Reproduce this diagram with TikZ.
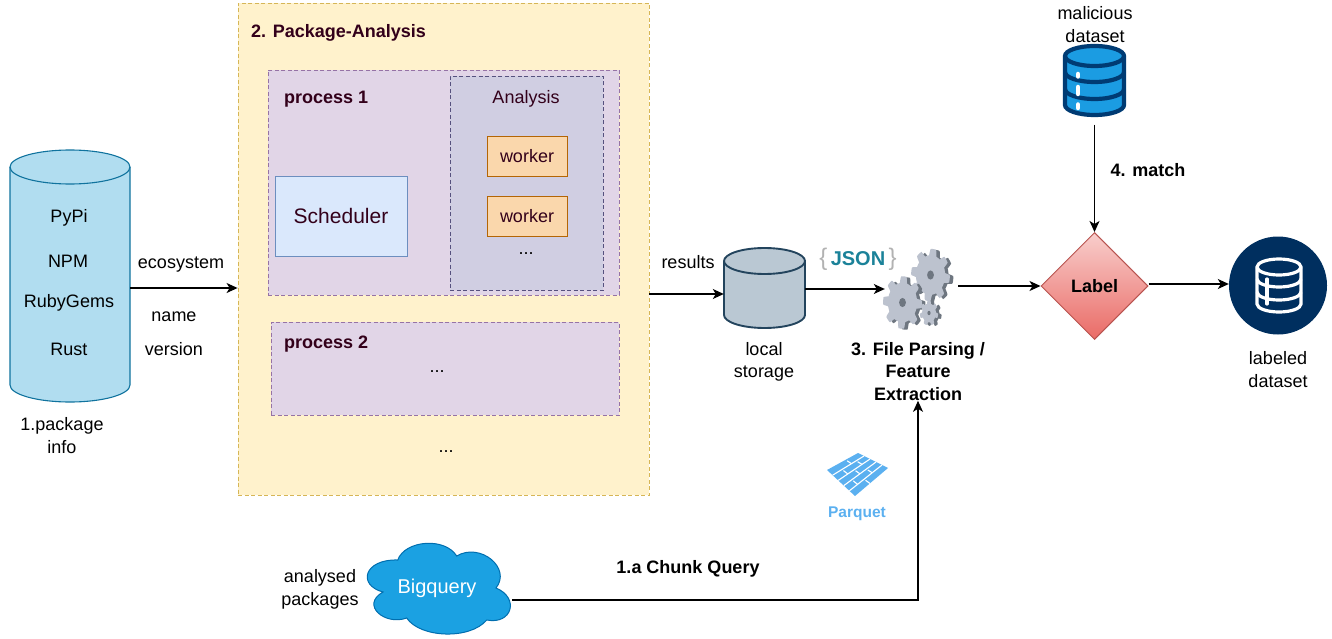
\documentclass[tikz,border=0pt]{standalone}
\usepackage{fontspec}
\setmainfont{Liberation Sans}
\usetikzlibrary{arrows.meta,shapes.geometric,calc}
\definecolor{ttl}{HTML}{33001A}
\definecolor{navy}{HTML}{002F5F}
\newcommand{\fs}[1]{\fontsize{#1}{22.5}\selectfont}
\newcommand{\gearshape}[6]{% cx cy rx ry teeth phase
  plot[domain=0:360,samples=181] ({#1+#3*(1+0.14*max(-1,min(1,2.5*sin(#5*\x+#6))))*cos(\x)},{#2+#4*(1+0.14*max(-1,min(1,2.5*sin(#5*\x+#6))))*sin(\x)}) -- cycle}
\newcommand{\onegear}[6]{%
  \fill[gearside] \gearshape{#1+3.5}{#2+1}{#3}{#4}{#5}{#6};
  \fill[gearface] \gearshape{#1}{#2}{#3}{#4}{#5}{#6};
  \fill[gearside] (#1,#2) ellipse [x radius=#3*0.2pt,y radius=#4*0.2pt];}
\tikzset{
  lbl/.style={inner sep=0,align=center,font=\fs{18}},
  blbl/.style={lbl,font=\fs{18}\bfseries},
  ttlbl/.style={lbl,font=\fs{18}\bfseries,text=ttl},
  conn/.style={draw=black,line width=1.2pt,-{Stealth[length=11pt,width=10pt,inset=3pt]}},
  boxn/.style={inner sep=0,rectangle,line width=0.85pt},
  dashbox/.style={boxn,dash pattern=on 4pt off 2.5pt},
  gearface/.style={fill=gearfc},
  gearside/.style={fill=gearsd},
  dbline/.style={line width=1.1pt}
}
\definecolor{gearfc}{HTML}{BCC2CE}
\definecolor{gearsd}{HTML}{6E7680}
\begin{document}
\begin{tikzpicture}[x=1pt,y=-1pt]
\useasboundingbox (0,0) rectangle (1332,639);
% left cylinder
\node[inner sep=0,minimum width=120pt,minimum height=252pt] (pkgdb) at (70,276) {};
\draw[dbline,draw={rgb,255:red,16;green,115;blue,158},fill={rgb,255:red,177;green,221;blue,240}]
  (10,167) -- (10,385) arc[start angle=180,end angle=360,x radius=60pt,y radius=17pt] -- (130,167) arc[start angle=0,end angle=180,x radius=60pt,y radius=17pt] -- cycle;
\draw[dbline,draw={rgb,255:red,16;green,115;blue,158}] (10,167) arc[start angle=180,end angle=360,x radius=60pt,y radius=17pt];
\node[lbl] (pypi) at (69,218) {PyPi};
\node[lbl] (npm) at (68,261) {NPM};
\node[lbl] (ruby) at (69,303) {RubyGems};
\node[lbl] (rust) at (69,349) {Rust};
\node[lbl] (pkginfo) at (62,435.5) {1.package\\info};
\node[lbl] (eco) at (181,265) {ecosystem};
\node[lbl] (pname) at (174,317) {name};
\node[lbl] (pver) at (174,349) {version};
% package analysis
\node[dashbox,draw={rgb,255:red,214;green,182;blue,86},fill={rgb,255:red,255;green,242;blue,204},minimum width=411pt,minimum height=492pt] (pkg) at (443.5,249) {};
\node[ttlbl,anchor=west] (pkgt) at (251,33) {2. Package-Analysis};
\node[dashbox,draw={rgb,255:red,150;green,115;blue,166},fill={rgb,255:red,225;green,213;blue,231},minimum width=351pt,minimum height=225pt] (p1) at (443.5,182.5) {};
\node[ttlbl,anchor=west] (p1t) at (284,99) {process 1};
\node[dashbox,draw={rgb,255:red,86;green,81;blue,126},fill={rgb,255:red,208;green,206;blue,226},minimum width=153pt,minimum height=214pt] (an) at (526.5,183) {};
\node[lbl,text=ttl] (ant) at (526,99) {Analysis};
\node[boxn,draw={rgb,255:red,180;green,101;blue,4},fill={rgb,255:red,250;green,215;blue,172},minimum width=80pt,minimum height=40pt,font=\fs{18},text=ttl] (w1) at (527,156) {worker};
\node[boxn,draw={rgb,255:red,180;green,101;blue,4},fill={rgb,255:red,250;green,215;blue,172},minimum width=80pt,minimum height=40pt,font=\fs{18},text=ttl] (w2) at (527,216) {worker};
\node[lbl] (d1) at (526,254) {...};
\node[boxn,draw={rgb,255:red,108;green,142;blue,191},fill={rgb,255:red,218;green,232;blue,252},minimum width=132pt,minimum height=80pt,font=\fs{21},text=ttl] (sch) at (341,216) {Scheduler};
\node[dashbox,draw={rgb,255:red,150;green,115;blue,166},fill={rgb,255:red,225;green,213;blue,231},minimum width=348pt,minimum height=93pt] (p2) at (445,368.5) {};
\node[ttlbl,anchor=west] (p2t) at (284,344) {process 2};
\node[lbl] (d2) at (437,372) {...};
\node[lbl] (d3) at (446,452) {...};
% local storage
\node[inner sep=0,minimum width=81pt,minimum height=80pt] (store) at (764.5,288) {};
\draw[line width=1.9pt,draw={rgb,255:red,35;green,68;blue,93},fill={rgb,255:red,186;green,200;blue,211}]
  (724,261) -- (724,315) arc[start angle=180,end angle=360,x radius=40.5pt,y radius=13pt] -- (805,261) arc[start angle=0,end angle=180,x radius=40.5pt,y radius=13pt] -- cycle;
\draw[line width=1.9pt,draw={rgb,255:red,35;green,68;blue,93}] (724,261) arc[start angle=180,end angle=360,x radius=40.5pt,y radius=13pt];
\node[lbl] (results) at (688,262) {results};
\node[lbl] (storet) at (764,362) {local\\storage};
% JSON
\node[inner sep=0,font=\fs{20}\bfseries] (json) at (858,259) {\textcolor{gray!60}{\fs{24}\mdseries\{}\,\textcolor[HTML]{1B8299}{JSON}\,\textcolor{gray!60}{\fs{24}\mdseries\}}};
% gears
\node[inner sep=0,minimum width=73pt,minimum height=75pt] (gears) at (921.5,289) {};
\onegear{930.5}{275}{17}{23}{8}{20}
\onegear{902.5}{302.5}{17}{23}{8}{60}
\onegear{929}{313}{8}{11}{7}{0}
\node[blbl] (feat) at (918,371.5) {3. File Parsing /\\Feature\\Extraction};
% parquet
\coordinate (qa) at (827,470);
\coordinate (qb) at (858,453);
\coordinate (qc) at (888,468);
\coordinate (qd) at (855,496);
\fill[fill={rgb,255:red,91;green,176;blue,240}] (qa) -- (qb) -- (qc) -- (qd) -- cycle;
\foreach \t in {.2,.4,.6,.8}
  \draw[white,line width=1.1pt] ($(qa)!\t!(qd)$) -- ($(qb)!\t!(qc)$);
\foreach \t/\u in {.05/.6,.25/.3,.25/.75,.45/.5,.65/.25,.65/.7,.85/.45}
  \draw[white,line width=1.1pt] ($($(qa)!\t!(qd)$)!\u!($(qb)!\t!(qc)$)$) -- ($($(qa)!\t+.15!(qd)$)!\u!($(qb)!\t+.15!(qc)$)$);
\node[inner sep=0,font=\fs{15.5}\bfseries,text={rgb,255:red,91;green,176;blue,240}] (parq) at (857,514) {Parquet};
% malicious dataset
\node[inner sep=0,minimum width=63pt,minimum height=79pt] (mal) at (1094.5,85) {};
\draw[line width=4.2pt,draw={rgb,255:red,0;green,59;blue,115},fill={rgb,255:red,27;green,156;blue,226}]
  (1065,56) -- (1065,105) arc[start angle=180,end angle=360,x radius=29.5pt,y radius=10pt] -- (1124,56) arc[start angle=0,end angle=180,x radius=29.5pt,y radius=10pt] -- cycle;
\draw[line width=4.2pt,draw={rgb,255:red,0;green,59;blue,115}] (1065,56) arc[start angle=180,end angle=360,x radius=29.5pt,y radius=10pt];
\draw[line width=4.2pt,draw={rgb,255:red,0;green,59;blue,115}] (1065,72) arc[start angle=180,end angle=360,x radius=29.5pt,y radius=10pt];
\draw[line width=4.2pt,draw={rgb,255:red,0;green,59;blue,115}] (1065,89) arc[start angle=180,end angle=360,x radius=29.5pt,y radius=10pt];
\draw[white,line width=4.5pt,line cap=round] (1078,74) -- (1078,76.5);
\draw[white,line width=4.5pt,line cap=round] (1078,87) -- (1078,94);
\draw[white,line width=4.5pt,line cap=round] (1078,104.5) -- (1078,108);
\node[lbl] (malt) at (1095,24.5) {malicious\\dataset};
\node[blbl] (match) at (1148,170) {4. match};
% label
\node[diamond,aspect=1,inner sep=0,minimum width=107pt,minimum height=107pt,draw={rgb,255:red,184;green,84;blue,80},line width=1pt,top color={rgb,255:red,248;green,206;blue,204},bottom color={rgb,255:red,234;green,107;blue,102},font=\fs{18}\bfseries] (label) at (1094.5,286) {Label};
% labeled dataset
\node[circle,inner sep=0,minimum size=98pt,fill=navy] (lab) at (1278,285.5) {};
\draw[white,line width=3.2pt] (1257,267) -- (1257,304) arc[start angle=180,end angle=360,x radius=22pt,y radius=8pt] -- (1301,267) arc[start angle=0,end angle=180,x radius=22pt,y radius=8pt] -- cycle;
\draw[white,line width=3.2pt] (1257,267) arc[start angle=180,end angle=360,x radius=22pt,y radius=8pt];
\draw[white,line width=3.2pt] (1257,279) arc[start angle=180,end angle=360,x radius=22pt,y radius=8pt];
\draw[white,line width=3.2pt] (1257,292) arc[start angle=180,end angle=360,x radius=22pt,y radius=8pt];
\draw[white,line width=3.2pt,line cap=round] (1267,279) -- (1267,304);
\node[lbl] (labt) at (1278,369.5) {labeled\\dataset};
% bigquery
\draw[line width=1pt,draw={rgb,255:red,0;green,110;blue,175},fill={rgb,255:red,27;green,161;blue,226}]
  (397.7,560) .. controls (405,540) and (445,537) .. (456.7,556)
  .. controls (480,542) and (512,568) .. (496,588)
  .. controls (520,598) and (512,625) .. (486.7,620)
  .. controls (470,640) and (420,638) .. (406.7,618)
  .. controls (385,626) and (360,605) .. (383,592)
  .. controls (357,585) and (364,559) .. (397.7,560) -- cycle;
\node[inner sep=0,font=\fs{20},text=white] (bq) at (437,588) {Bigquery};
\coordinate (bqout) at (512,600);
\node[lbl] (bqt) at (320,589.5) {analysed\\packages};
\node[blbl] (chunk) at (688,569) {1.a Chunk Query};
% connectors
\draw[conn] ([yshift=-12pt]pkgdb.east) -- ([yshift=-12pt]pkgdb.east -| pkg.west);
\draw[conn] ([yshift=-45pt]pkg.east) -- ([yshift=-45pt]pkg.east -| store.west);
\draw[conn] ([yshift=-1pt]store.east) -- (gears.west);
\draw[conn] (gears.east |- label.west) -- (label.west);
\draw[conn] ([yshift=2pt]label.east) -- ([yshift=2pt]label.east -| lab.west);
\draw[conn] (mal.south) -- (label.north);
\draw[conn] (bqout) -| (feat.south);
\end{tikzpicture}
\end{document}
